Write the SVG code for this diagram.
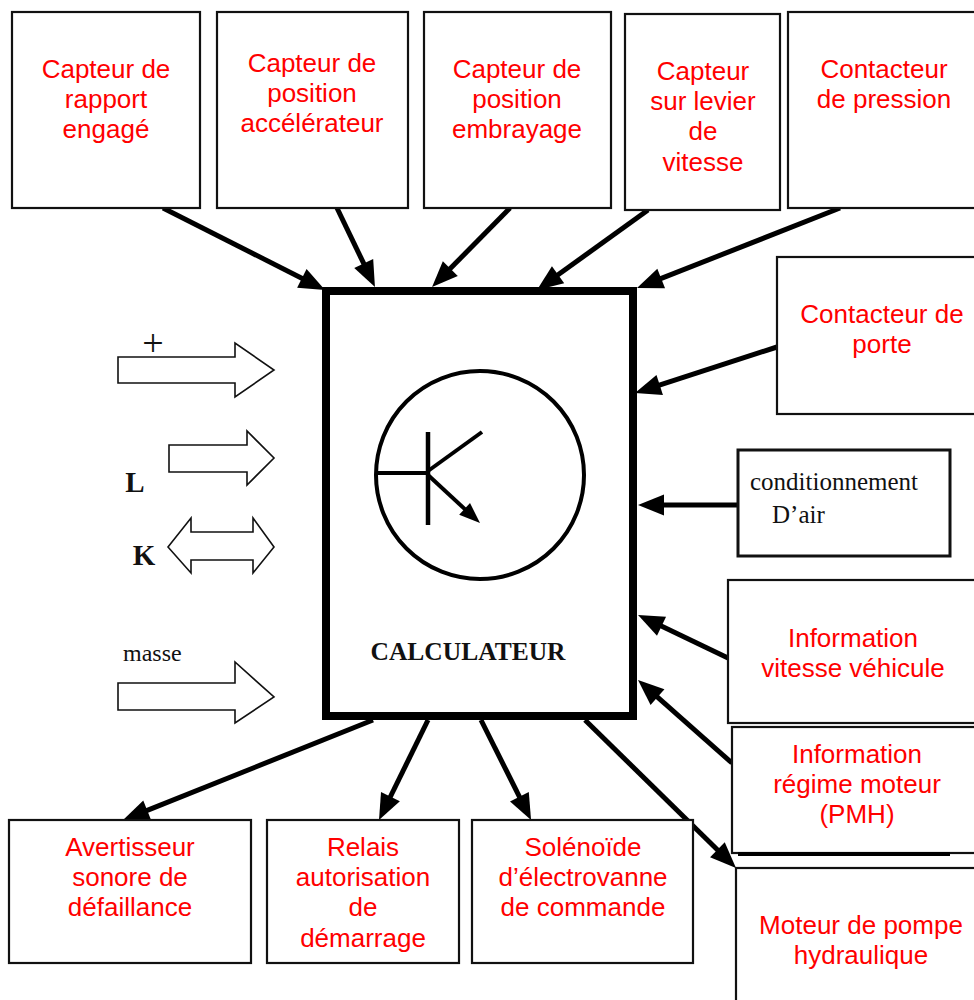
<svg xmlns="http://www.w3.org/2000/svg" width="974" height="1000" viewBox="0 0 974 1000">
<style>
.box{fill:#fff;stroke:#111;stroke-width:2.2}
.red{font-family:"Liberation Sans",Arial,sans-serif;font-size:26px;fill:#ff0000;text-anchor:middle}
.serif{font-family:"Liberation Serif","Times New Roman",serif;fill:#111}
.con{stroke:#000;stroke-width:5;fill:none;marker-end:url(#ah)}
.bus{fill:#fff;stroke:#111;stroke-width:1.6}
</style>
<defs>
<marker id="ah" markerUnits="userSpaceOnUse" markerWidth="28" markerHeight="22" refX="6" refY="10.5" orient="auto" overflow="visible">
<path d="M0,0 L26,10.5 L0,21 z" fill="#000"/>
</marker>
<marker id="ah2" markerUnits="userSpaceOnUse" markerWidth="22" markerHeight="18" refX="3" refY="8" orient="auto" overflow="visible">
<path d="M0,0 L21,8 L0,16 z" fill="#000"/>
</marker>
</defs>
<rect width="974" height="1000" fill="#fff"/>

<g id="connectors">
<line class="con" x1="163" y1="208" x2="307.2" y2="281.0"/>
<line class="con" x1="337" y1="208" x2="366.3" y2="268.9"/>
<line class="con" x1="510" y1="208" x2="446.1" y2="272.8"/>
<line class="con" x1="648" y1="210" x2="553.2" y2="278.3"/>
<line class="con" x1="840" y1="208" x2="655.6" y2="280.7"/>
<line class="con" x1="777" y1="347" x2="654.0" y2="386.8"/>
<line class="con" x1="738" y1="505" x2="658" y2="505"/>
<line class="con" x1="728" y1="658" x2="656.1" y2="623.6"/>
<line class="con" x1="732" y1="763" x2="653.0" y2="693.2"/>
<line class="con" x1="585" y1="720" x2="721.7" y2="854.0"/>
<line class="con" x1="373" y1="720" x2="141.6" y2="812.6"/>
<line class="con" x1="428" y1="720" x2="387.8" y2="802.0"/>
<line class="con" x1="481" y1="720" x2="522.1" y2="802.1"/>
</g>

<g id="calculateur">
<rect x="326" y="291" width="307" height="425" fill="#fff" stroke="#000" stroke-width="8"/>
<circle cx="480" cy="475" r="104" fill="none" stroke="#000" stroke-width="4"/>
<line x1="376" y1="473" x2="428" y2="473" stroke="#000" stroke-width="4"/>
<line x1="428" y1="432" x2="428" y2="525" stroke="#000" stroke-width="4.5"/>
<line x1="428" y1="471" x2="482" y2="432" stroke="#000" stroke-width="4"/>
<line x1="428" y1="475" x2="466.8" y2="510.9" stroke="#000" stroke-width="4" marker-end="url(#ah2)"/>
<text class="serif" x="468" y="660" font-size="25.5" font-weight="bold" text-anchor="middle">CALCULATEUR</text>
</g>

<g id="n-rapport">
<rect class="box" x="12" y="12" width="188" height="196"/>
<text class="red" x="106" y="78">Capteur de</text>
<text class="red" x="106" y="108">rapport</text>
<text class="red" x="106" y="138">engagé</text>
</g>
<g id="n-accelerateur">
<rect class="box" x="217" y="12" width="191" height="196"/>
<text class="red" x="312" y="72">Capteur de</text>
<text class="red" x="312" y="102">position</text>
<text class="red" x="312" y="132">accélérateur</text>
</g>
<g id="n-embrayage">
<rect class="box" x="424" y="12" width="187" height="196"/>
<text class="red" x="517" y="78">Capteur de</text>
<text class="red" x="517" y="108">position</text>
<text class="red" x="517" y="138">embrayage</text>
</g>
<g id="n-levier">
<rect class="box" x="625" y="14" width="155" height="196" stroke-width="2.8"/>
<text class="red" x="703" y="80">Capteur</text>
<text class="red" x="703" y="110">sur levier</text>
<text class="red" x="703" y="140">de</text>
<text class="red" x="703" y="171">vitesse</text>
</g>
<g id="n-pression">
<rect class="box" x="788" y="12" width="200" height="196"/>
<text class="red" x="884" y="78">Contacteur</text>
<text class="red" x="884" y="108">de pression</text>
</g>
<g id="n-porte">
<rect class="box" x="777" y="257" width="210" height="157"/>
<text class="red" x="882" y="323">Contacteur de</text>
<text class="red" x="882" y="353">porte</text>
</g>
<g id="n-clim">
<rect x="738" y="450" width="212" height="106" fill="#fff" stroke="#111" stroke-width="3"/>
<text class="serif" x="750" y="490" font-size="25">conditionnement</text>
<text class="serif" x="772" y="523" font-size="25">D’air</text>
</g>
<g id="n-vitesse">
<rect class="box" x="728" y="580" width="260" height="143"/>
<text class="red" x="853" y="647">Information</text>
<text class="red" x="853" y="677">vitesse véhicule</text>
</g>
<g id="n-regime">
<rect class="box" x="732" y="727" width="256" height="126"/>
<line x1="738" y1="854" x2="950" y2="854" stroke="#000" stroke-width="4"/>
<text class="red" x="857" y="763">Information</text>
<text class="red" x="857" y="793">régime moteur</text>
<text class="red" x="857" y="823">(PMH)</text>
</g>
<g id="n-pompe">
<rect class="box" x="736" y="868" width="252" height="150"/>
<text class="red" x="861" y="934">Moteur de pompe</text>
<text class="red" x="861" y="964">hydraulique</text>
</g>
<g id="n-avertisseur">
<rect class="box" x="9" y="820" width="242" height="143"/>
<text class="red" x="130" y="856">Avertisseur</text>
<text class="red" x="130" y="886">sonore de</text>
<text class="red" x="130" y="916">défaillance</text>
</g>
<g id="n-relais">
<rect class="box" x="267" y="820" width="192" height="143"/>
<text class="red" x="363" y="856">Relais</text>
<text class="red" x="363" y="886">autorisation</text>
<text class="red" x="363" y="916">de</text>
<text class="red" x="363" y="947">démarrage</text>
</g>
<g id="n-solenoide">
<rect class="box" x="472" y="820" width="221" height="143"/>
<text class="red" x="583" y="856">Solénoïde</text>
<text class="red" x="583" y="886">d’électrovanne</text>
<text class="red" x="583" y="916">de commande</text>
</g>

<g id="in-plus">
<polygon class="bus" points="118,357 235,357 235,343 274,370 235,397 235,383 118,383"/>
<text class="serif" x="153" y="356" font-size="38" text-anchor="middle">+</text>
</g>
<g id="in-L">
<polygon class="bus" points="169,445 247,445 247,431 274,458 247,485 247,472 169,472"/>
<text class="serif" x="135" y="492" font-size="29" font-weight="bold" text-anchor="middle">L</text>
</g>
<g id="in-K">
<polygon class="bus" points="168,547 191,518 191,532 253,532 253,518 274,547 253,573 253,560 191,560 191,573"/>
<text class="serif" x="144" y="565" font-size="29" font-weight="bold" text-anchor="middle">K</text>
</g>
<g id="in-masse">
<polygon class="bus" points="118,683 235,683 235,662 274,697 235,723 235,710 118,710"/>
<text class="serif" x="123" y="661" font-size="24">masse</text>
</g>
</svg>
